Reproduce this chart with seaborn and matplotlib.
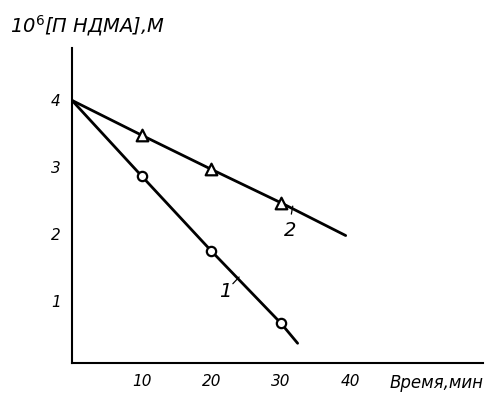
import matplotlib
matplotlib.use("Agg")
import matplotlib.pyplot as plt
import seaborn as sns
import pandas as pd

sns.set_theme(style="white")
plt.rcParams['font.family'] = ['DejaVu Sans']
plt.rcParams['text.color'] = 'black'

# curve 1 (circles) and curve 2 (triangles), time in min, 10^6 [ПНДМА] in M
time_1 = [10, 20, 30]
conc_1 = [2.87, 1.75, 0.67]
line_time_1 = [0, 10, 20, 30, 32.4]
line_conc_1 = [4.0, 2.87, 1.75, 0.67, 0.37]

time_2 = [10, 20, 30]
conc_2 = [3.48, 2.97, 2.47]
line_time_2 = [0, 10, 20, 30, 39.3]
line_conc_2 = [4.0, 3.48, 2.97, 2.47, 1.98]

x_ticks = [10, 20, 30, 40]
y_ticks = [1, 2, 3, 4]

fig = plt.figure(figsize=(4.88, 3.95), dpi=100)
ax = fig.add_axes([0.1475, 0.081, 0.842, 0.797])

sns.lineplot(x=line_time_1, y=line_conc_1, ax=ax, color="black", linewidth=2, sort=False)
sns.lineplot(x=line_time_2, y=line_conc_2, ax=ax, color="black", linewidth=2, sort=False)
sns.scatterplot(x=time_1, y=conc_1, ax=ax, marker="o", s=45, facecolor="white",
                edgecolor="black", linewidth=1.6, zorder=5)
sns.scatterplot(x=time_2, y=conc_2, ax=ax, marker="^", s=70, facecolor="white",
                edgecolor="black", linewidth=1.6, zorder=5)

ax.set_xlim(0, 59)
ax.set_ylim(0.075, 4.78)
ax.set_xticks(x_ticks)
ax.set_yticks(y_ticks)
ax.set_xticklabels([str(t) for t in x_ticks], fontstyle="italic", fontsize=11)
ax.set_yticklabels([str(t) for t in y_ticks], fontstyle="italic", fontsize=11)
ax.tick_params(direction="in", length=5, width=1, colors="black", pad=8)

for side in ["top", "right"]:
    ax.spines[side].set_visible(False)
for side in ["left", "bottom"]:
    ax.spines[side].set_color("black")
    ax.spines[side].set_linewidth(1.5)

# curve labels with short leader strokes
ax.text(22.0, 1.14, "1", fontsize=14, fontstyle="italic", color="black", ha="center", va="center")
ax.text(31.3, 2.05, "2", fontsize=14, fontstyle="italic", color="black", ha="center", va="center")
leader = dict(arrowstyle="-", color="black", lw=0.9, shrinkA=0, shrinkB=0)
ax.annotate("", xy=(24.0, 1.36), xytext=(23.1, 1.26), arrowprops=leader)
ax.annotate("", xy=(31.7, 2.42), xytext=(31.5, 2.30), arrowprops=leader)

fig.text(0.02, 0.935, "10$^6$[П НДМА],М", fontsize=14, fontstyle="italic",
         color="black", ha="left", va="center")
fig.text(0.99, 0.03, "Время,мин", fontsize=12, fontstyle="italic",
         color="black", ha="right", va="center")

fig.savefig("out.png", dpi=100, facecolor="white")
